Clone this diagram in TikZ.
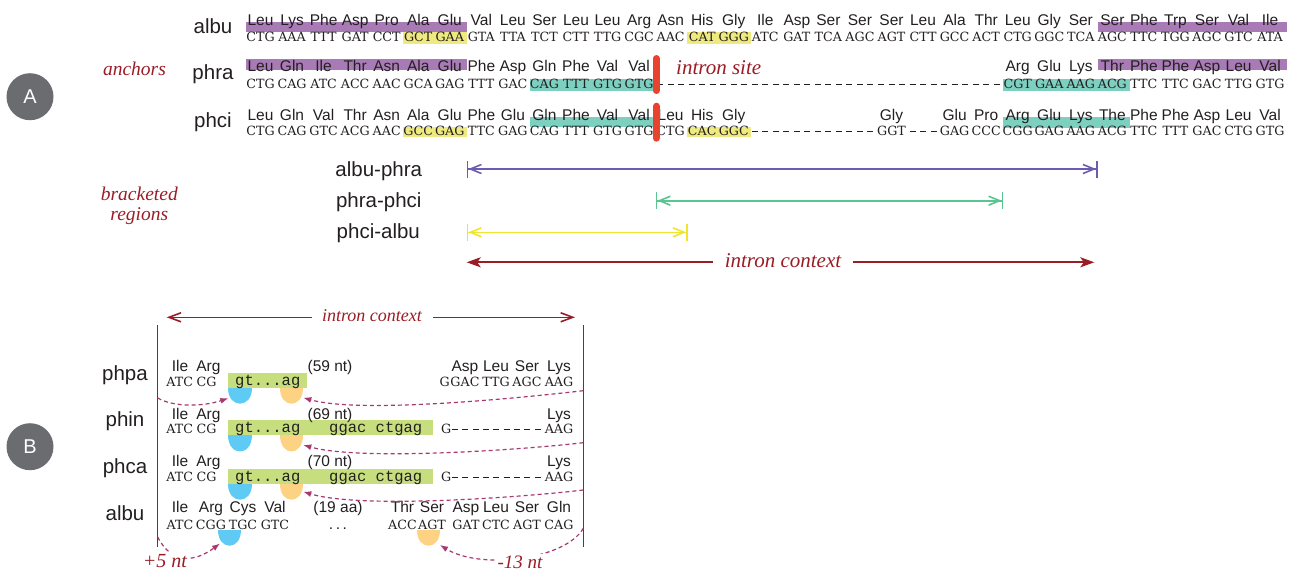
\documentclass[tikz,border=0pt]{standalone}
\usepackage{fontspec}
\setmainfont{Liberation Serif}
\newfontfamily\hsans{Liberation Sans}
\newfontfamily\cserif{DejaVu Serif}
\newfontfamily\iserif{Liberation Serif}
\newfontfamily\cmono{Liberation Mono}
\usetikzlibrary{arrows.meta}

\definecolor{ink}{HTML}{231F20}
\definecolor{wine}{HTML}{9A1C25}
\definecolor{anchorbar}{HTML}{A97BB6}
\definecolor{hlyellow}{HTML}{EEEA80}
\definecolor{hlteal}{HTML}{7DCFC0}
\definecolor{sitered}{HTML}{E8432F}
\definecolor{apurple}{HTML}{6C5BB0}
\definecolor{agreen}{HTML}{5CC58F}
\definecolor{ayellow}{HTML}{EFE52F}
\definecolor{limebox}{HTML}{C7DE7E}
\definecolor{donorblue}{HTML}{5FCBF4}
\definecolor{accorange}{HTML}{FDD283}
\definecolor{plum}{HTML}{A8386E}
\definecolor{badge}{HTML}{6B6C70}

% half disc hanging below a baseline: fill colour, centre x, top y
\newcommand\halfdisc[3]{\fill[#1] ({#2-11.7},#3) .. controls ({#2-11.7},{#3+21.3}) and ({#2+11.7},{#3+21.3}) .. ({#2+11.7},#3) -- cycle;}

\tikzset{
  aa/.style={font=\hsans\fontsize{15.5}{15.5}\selectfont, text=ink, anchor=base, inner sep=0pt},
  cod/.style={font=\cserif\fontsize{12.7}{12.7}\selectfont, text=ink, anchor=base, inner sep=0pt},
  seqmono/.style={font=\cmono\fontsize{15.5}{15.5}\selectfont, text=ink, anchor=base west, inner sep=0pt},
  rowlab/.style={font=\hsans\fontsize{20.5}{20.5}\selectfont, text=ink, anchor=base, inner sep=0pt},
  note/.style={font=\iserif\itshape\fontsize{20}{20}\selectfont, text=wine, anchor=base, inner sep=0pt},
  gapdash/.style={draw=ink, line width=1.1pt, dash pattern=on 6pt off 4.5pt},
  brk/.style={line width=1.6pt, {Bar[width=17pt]Straight Barb[length=11pt,width=9pt]}-{Straight Barb[length=11pt,width=9pt]Bar[width=17pt]}},
  ctxa/.style={draw=wine, line width=1.8pt, -{Stealth[length=14pt,width=10pt,inset=3.5pt]}},
  ctxb/.style={draw=wine, line width=1.6pt, -{Straight Barb[length=12pt,width=9pt]}},
  edge/.style={draw=wine, line width=1.5pt},
  jump/.style={draw=plum, line width=1.2pt, dash pattern=on 4pt off 3pt, -{Latex[length=8pt,width=6pt]}},
  badgenode/.style={circle, fill=badge, minimum size=47pt, inner sep=0pt, text=white, font=\hsans\fontsize{20}{20}\selectfont},
}

\begin{document}
\begin{tikzpicture}[x=1pt,y=-1pt]
\useasboundingbox (0,0) rectangle (1293,571);

% ================= panel A =================
\node[badgenode] (badgeA) at (30,96.7) {A};
\node[note, font=\iserif\itshape\fontsize{19.5}{19.5}\selectfont] (anch) at (134.5,75) {anchors};
\node[note, font=\iserif\itshape\fontsize{19.5}{19.5}\selectfont] (brk1) at (139.3,200) {bracketed};
\node[note, font=\iserif\itshape\fontsize{19.5}{19.5}\selectfont] (brk2) at (139.3,220) {regions};

% highlight bands behind the sequences
\fill[anchorbar] (246,21.8) rectangle (466.8,31.8);
\fill[anchorbar] (1097.8,21.8) rectangle (1287,31.8);
\fill[anchorbar] (246,59) rectangle (466.8,70);
\fill[anchorbar] (1097.8,59) rectangle (1287,70);
\fill[hlyellow] (402.7,31.8) rectangle (467,44);
\fill[hlyellow] (687,31.8) rectangle (750.5,44);
\fill[hlyellow] (402.7,126.7) rectangle (467,136.7);
\fill[hlyellow] (687,126.7) rectangle (750.5,136.7);
\fill[hlteal] (530,79) rectangle (655,90.7);
\fill[hlteal] (1003,79) rectangle (1130,90.7);
\fill[hlteal] (530,116.7) rectangle (655,127);
\fill[hlteal] (1003,116.7) rectangle (1130,127.7);

% row names
\node[rowlab] (nAlbu) at (213,33.3) {albu};
\node[rowlab] (nPhra) at (213,79) {phra};
\node[rowlab] (nPhci) at (213,127.7) {phci};

% albu
\foreach \i/\a/\c in {0/Leu/CTG,1/Lys/AAA,2/Phe/TTT,3/Asp/GAT,4/Pro/CCT,5/Ala/GCT,6/Glu/GAA,7/Val/GTA,8/Leu/TTA,9/Ser/TCT,10/Leu/CTT,11/Leu/TTG,12/Arg/CGC,13/Asn/AAC,14/His/CAT,15/Gly/GGG,16/Ile/ATC,17/Asp/GAT,18/Ser/TCA,19/Ser/AGC,20/Ser/AGT,21/Leu/CTT,22/Ala/GCC,23/Thr/ACT,24/Leu/CTG,25/Gly/GGC,26/Ser/TCA,27/Ser/AGC,28/Phe/TTC,29/Trp/TGG,30/Ser/AGC,31/Val/GTC,32/Ile/ATA}{
  \node[aa] (ra\i) at ({260.5+31.55*\i},25) {\a};
  \node[cod] (ca\i) at ({260.5+31.55*\i},41.5) {\c};
}
% phra
\foreach \i/\a/\c in {0/Leu/CTG,1/Gln/CAG,2/Ile/ATC,3/Thr/ACC,4/Asn/AAC,5/Ala/GCA,6/Glu/GAG,7/Phe/TTT,8/Asp/GAC,9/Gln/CAG,10/Phe/TTT,11/Val/GTG,12/Val/GTG,24/Arg/CGT,25/Glu/GAA,26/Lys/AAG,27/Thr/ACG,28/Phe/TTC,29/Phe/TTC,30/Asp/GAC,31/Leu/TTG,32/Val/GTG}{
  \node[aa] (rr\i) at ({260.5+31.55*\i},71) {\a};
  \node[cod] (cr\i) at ({260.5+31.55*\i},88.3) {\c};
}
\foreach \i in {13,...,23}{
  \draw[gapdash] ({247+31.55*\i},84.5) -- ({274+31.55*\i},84.5);
}
% phci
\foreach \i/\a/\c in {0/Leu/CTG,1/Gln/CAG,2/Val/GTC,3/Thr/ACG,4/Asn/AAC,5/Ala/GCC,6/Glu/GAG,7/Phe/TTC,8/Glu/GAG,9/Gln/CAG,10/Phe/TTT,11/Val/GTG,12/Val/GTG,13/Leu/CTG,14/His/CAC,15/Gly/GGC,20/Gly/GGT,22/Glu/GAG,23/Pro/CCC,24/Arg/CGG,25/Glu/GAG,26/Lys/AAG,27/The/ACG,28/Phe/TTC,29/Phe/TTT,30/Asp/GAC,31/Leu/CTG,32/Val/GTG}{
  \node[aa] (rc\i) at ({260.5+31.55*\i},120) {\a};
  \node[cod] (cc\i) at ({260.5+31.55*\i},135.5) {\c};
}
\foreach \i in {16,...,19,21}{
  \draw[gapdash] ({247+31.55*\i},131.5) -- ({274+31.55*\i},131.5);
}

% intron site marks
\draw[sitered, line width=7pt, line cap=round] (656.3,58.5) -- (656.3,90.5);
\draw[sitered, line width=7pt, line cap=round] (656.3,106.2) -- (656.3,138.2);
\node[note, font=\iserif\itshape\fontsize{21}{21}\selectfont, anchor=base west] (site) at (676,74) {intron site};

% bracketed regions
\node[rowlab] (lAP) at (378.8,176) {albu-phra};
\node[rowlab] (lPP) at (378.8,207.3) {phra-phci};
\node[rowlab] (lPA) at (378.3,238.3) {phci-albu};
\coordinate (apL) at (466.7,169);  \coordinate (apR) at (1097.7,169);
\coordinate (ppL) at (655.7,200.7); \coordinate (ppR) at (1003.3,200.7);
\coordinate (paL) at (466.7,232.3); \coordinate (paR) at (687.7,232.3);
\draw[brk, apurple] (apL) -- (apR);
\draw[brk, agreen] (ppL) -- (ppR);
\draw[brk, ayellow] (paL) -- (paR);

\node[note, font=\iserif\itshape\fontsize{21}{21}\selectfont] (ctxA) at (783,267) {intron context};
\coordinate (ctxAl) at (713,262.3);  \coordinate (ctxAtl) at (466.7,262.3);
\coordinate (ctxAr) at (853,262.3);  \coordinate (ctxAtr) at (1094.3,262.3);
\draw[ctxa] (ctxAl) -- (ctxAtl);
\draw[ctxa] (ctxAr) -- (ctxAtr);

% ================= panel B =================
\node[badgenode] (badgeB) at (30,446.7) {B};

\node[note, font=\iserif\itshape\fontsize{18}{18}\selectfont] (ctxB) at (372,321.5) {intron context};
\coordinate (ctxBl) at (311.7,317.3); \coordinate (ctxBtl) at (166.7,317.3);
\coordinate (ctxBr) at (433,317.3);   \coordinate (ctxBtr) at (575,317.3);
\draw[ctxb] (ctxBl) -- (ctxBtl);
\draw[ctxb] (ctxBr) -- (ctxBtr);

% flanking borders of the context window
\coordinate (lTop) at (157.7,325); \coordinate (lBot) at (157.7,546.7);
\coordinate (rTop) at (583.3,325); \coordinate (rBot) at (583.3,546.7);
\draw[edge] (lTop) -- (lBot);
\draw[edge] (rTop) -- (rBot);

% row names
\node[rowlab] (nPhpa) at (125,380) {phpa};
\node[rowlab] (nPhin) at (125,426) {phin};
\node[rowlab] (nPhca) at (125,473) {phca};
\node[rowlab] (nAlbuB) at (125,520) {albu};

% intron boxes
\fill[limebox] (228.3,373) rectangle (306.7,388);
\fill[limebox] (228.3,420.3) rectangle (433.3,435.3);
\fill[limebox] (228.3,468.5) rectangle (433.3,483.5);

% splice site half discs
\halfdisc{donorblue}{240}{388}
\halfdisc{accorange}{291.7}{388}
\halfdisc{donorblue}{240}{435.3}
\halfdisc{accorange}{291.7}{435.3}
\halfdisc{donorblue}{240}{483.5}
\halfdisc{accorange}{291.7}{483.5}
\halfdisc{donorblue}{229.3}{530}
\halfdisc{accorange}{428.3}{530}

% phpa
\node[aa] (pa1) at (180,371.7) {Ile};
\node[aa] (pa2) at (208.4,371.7) {Arg};
\node[cod] (pc1) at (179.7,386) {ATC};
\node[cod, anchor=base west] (pc2) at (196.5,386) {CG};
\node[seqmono] (pm1) at (235,385.5) {gt...ag};
\node[aa] (pn) at (330,371.7) {(59 nt)};
\node[cod, anchor=base west] (pcG) at (439.5,386) {G};
\foreach \x/\a/\c in {465/Asp/GAC,496/Leu/TTG,527/Ser/AGC,559/Lys/AAG}{
  \node[aa] (pa\a) at (\x,371.7) {\a};
  \node[cod] (pc\c) at (\x,386) {\c};
}

% phin
\node[aa] (na1) at (180,419.3) {Ile};
\node[aa] (na2) at (208.4,419.3) {Arg};
\node[cod] (nc1) at (179.7,433.3) {ATC};
\node[cod, anchor=base west] (nc2) at (196.5,433.3) {CG};
\node[seqmono] (nm1) at (235,432.5) {gt...ag};
\node[seqmono] (nm2) at (329,432.5) {ggac ctgag};
\node[aa] (nn) at (330,419.3) {(69 nt)};
\node[cod, anchor=base west] (ncG) at (441,433.3) {G};
\node[aa] (nLys) at (559,419.3) {Lys};
\node[cod] (nAAG) at (559,433.3) {AAG};
\foreach \x in {465,496,527}{
  \draw[gapdash] ({\x-13.5},429.5) -- ({\x+13.5},429.5);
}

% phca
\node[aa] (ca1) at (180,466) {Ile};
\node[aa] (ca2) at (208.4,466) {Arg};
\node[cod] (cb1) at (179.7,481.7) {ATC};
\node[cod, anchor=base west] (cb2) at (196.5,481.7) {CG};
\node[seqmono] (cm1) at (235,481.5) {gt...ag};
\node[seqmono] (cm2) at (329,481.5) {ggac ctgag};
\node[aa] (cn) at (330,466) {(70 nt)};
\node[cod, anchor=base west] (cbG) at (441,481.7) {G};
\node[aa] (cLys) at (559,466) {Lys};
\node[cod] (cAAG) at (559,481.7) {AAG};
\foreach \x in {465,496,527}{
  \draw[gapdash] ({\x-13.5},477.5) -- ({\x+13.5},477.5);
}

% albu
\foreach \x/\a/\c/\k in {180/Ile/ATC/1,211/Arg/CGG/2,243/Cys/TGC/3,275/Val/GTC/4,402.5/Thr/ACC/5,432/Ser/AGT/6,466/Asp/GAT/7,496/Leu/CTC/8,527/Ser/AGT/9,559/Gln/CAG/10}{
  \node[aa] (ua\k) at (\x,512.7) {\a};
  \node[cod] (uc\k) at (\x,529) {\c};
}
\node[aa] (uaa) at (338,512.7) {(19 aa)};
\node[aa] (udots) at (338,529) {.\,.\,.};

% splice site shifts
\coordinate (dA) at (228.3,398.3);
\coordinate (aA) at (303.3,397.7);
\coordinate (aB) at (303.3,445);
\coordinate (aC) at (303.3,491.7);
\coordinate (dU) at (220,543.5);
\coordinate (aU) at (440,545);
\draw[jump] (lTop |- 0,398) .. controls (175,408) and (205,406) .. (dA);
\draw[jump] (rTop |- 0,390.7) .. controls (520,398) and (360,414) .. (aA);
\draw[jump] (rTop |- 0,442.7) .. controls (520,450) and (360,461) .. (aB);
\draw[jump] (rTop |- 0,490) .. controls (520,497.5) and (360,509) .. (aC);
\draw[jump] (lTop |- 0,537) .. controls (172,565) and (195,562) .. (dU);
\draw[jump] (rTop |- 0,528.3) .. controls (565,560) and (480,570) .. (aU);
\node[note, fill=white, inner sep=1.5pt, font=\iserif\itshape\fontsize{20}{20}\selectfont] (plus5) at (165,567) {+5 nt};
\node[note, fill=white, inner sep=1.5pt, font=\iserif\itshape\fontsize{19}{19}\selectfont] (minus13) at (520,568) {-13 nt};
\end{tikzpicture}
\end{document}
